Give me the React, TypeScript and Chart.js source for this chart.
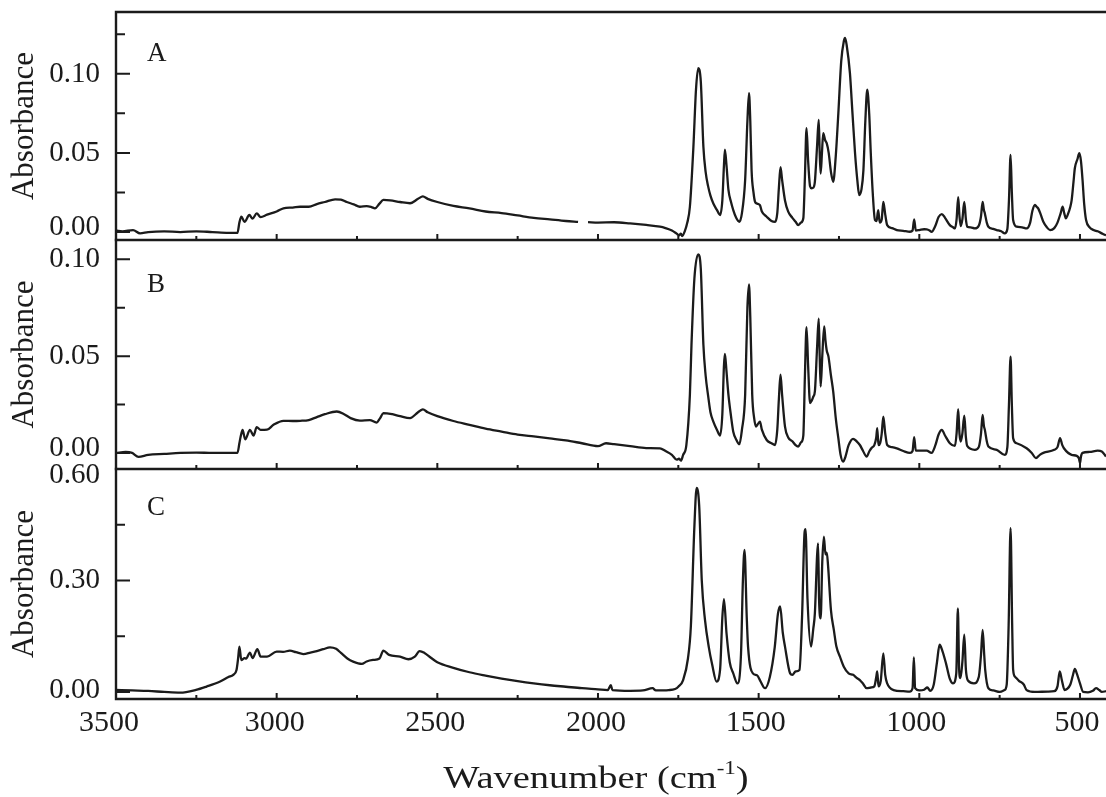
import React, { useEffect, useRef } from 'react';
import { Chart, registerables } from 'chart.js';

Chart.register(...registerables);

const FONT = "'Liberation Serif', 'Times New Roman', Times, serif";
const INK = '#1b1b1b';

// [wavenumber (cm-1), absorbance]; null marks a break in the recorded trace
const spectrumA: [number, number | null][] = [
  [3500, 0.001], [3480, 0.0005], [3447, 0.0013], [3425, -0.0008], [3400, 0.0], [3350, 0.0005],
  [3300, 0.0], [3250, 0.0005], [3200, 0.0], [3150, -0.0005], [3122, -0.0005], [3116, 0.006],
  [3110, 0.0097], [3100, 0.0065], [3085, 0.0108], [3075, 0.0085], [3062, 0.0118], [3050, 0.0095],
  [3030, 0.011], [3000, 0.013], [2979, 0.015], [2950, 0.0155], [2927, 0.016], [2900, 0.016],
  [2875, 0.0177], [2850, 0.019], [2818, 0.0207], [2800, 0.0205], [2782, 0.019], [2760, 0.0175],
  [2741, 0.016], [2720, 0.0164], [2705, 0.0158], [2694, 0.015], [2680, 0.018], [2668, 0.0203],
  [2647, 0.02], [2616, 0.019], [2585, 0.0182], [2560, 0.021], [2545, 0.0225], [2530, 0.021],
  [2500, 0.019], [2450, 0.0165], [2400, 0.015], [2350, 0.013], [2300, 0.012], [2250, 0.0105],
  [2200, 0.009], [2150, 0.008], [2100, 0.007], [2062, 0.0065], [2047, null], [2031, 0.0063],
  [2000, 0.006], [1950, 0.0062], [1900, 0.0055], [1850, 0.0045], [1807, 0.0034], [1790, 0.0025],
  [1770, 0.001], [1755, -0.001], [1748, -0.002], [1742, -0.001], [1738, -0.0025], [1730, 0.0005],
  [1722, 0.006], [1714, 0.016], [1703, 0.054], [1695, 0.09], [1688, 0.1036], [1680, 0.095],
  [1672, 0.054], [1665, 0.038], [1657, 0.0287], [1650, 0.023], [1641, 0.018], [1630, 0.014],
  [1620, 0.0108], [1613, 0.02], [1608, 0.042], [1605, 0.052], [1600, 0.042], [1594, 0.0266],
  [1586, 0.019], [1579, 0.0139], [1570, 0.009], [1560, 0.0065], [1552, 0.012], [1542, 0.033],
  [1535, 0.07], [1530, 0.0878], [1526, 0.07], [1522, 0.039], [1516, 0.025], [1511, 0.019],
  [1505, 0.018], [1496, 0.017], [1490, 0.013], [1475, 0.0097], [1460, 0.007], [1449, 0.0065],
  [1442, 0.012], [1437, 0.028], [1432, 0.041], [1427, 0.033], [1418, 0.02], [1408, 0.0129],
  [1395, 0.009], [1385, 0.0065], [1377, 0.0044], [1368, 0.006], [1361, 0.0087], [1356, 0.035],
  [1351, 0.0656], [1346, 0.045], [1340, 0.029], [1335, 0.0277], [1330, 0.028], [1325, 0.0318],
  [1318, 0.055], [1313, 0.0709], [1310, 0.05], [1307, 0.037], [1303, 0.05], [1299, 0.0625],
  [1293, 0.058], [1288, 0.056], [1282, 0.05], [1275, 0.038], [1268, 0.0318], [1260, 0.048],
  [1252, 0.075], [1243, 0.108], [1235, 0.1205], [1231, 0.1226], [1226, 0.118], [1216, 0.1005],
  [1208, 0.075], [1200, 0.0498], [1193, 0.033], [1187, 0.0234], [1180, 0.027], [1174, 0.039],
  [1168, 0.07], [1162, 0.0899], [1156, 0.075], [1151, 0.0498], [1145, 0.025], [1138, 0.0076],
  [1133, 0.007], [1128, 0.0139], [1123, 0.006], [1117, 0.008], [1112, 0.019], [1106, 0.011],
  [1100, 0.0044], [1085, 0.0025], [1070, 0.0013], [1050, 0.0008], [1029, 0.0002], [1021, 0.001],
  [1016, 0.008], [1011, 0.001], [1000, 0.0013], [985, 0.0018], [977, 0.0017], [968, 0.001],
  [962, 0.0002], [950, 0.004], [940, 0.0095], [930, 0.0114], [920, 0.009], [905, 0.0044],
  [895, 0.003], [889, 0.0023], [884, 0.008], [879, 0.022], [875, 0.01], [871, 0.0038],
  [866, 0.008], [860, 0.019], [855, 0.008], [851, 0.0034], [840, 0.003], [827, 0.0023],
  [815, 0.004], [808, 0.01], [803, 0.019], [799, 0.014], [796, 0.0118], [790, 0.006],
  [785, 0.0034], [770, 0.002], [759, 0.0013], [745, 0.0005], [734, -0.0008], [726, 0.002],
  [721, 0.02], [716, 0.0487], [712, 0.025], [708, 0.0076], [697, 0.0034], [680, 0.003],
  [666, 0.0023], [655, 0.006], [648, 0.0135], [640, 0.0171], [635, 0.016], [630, 0.015],
  [622, 0.011], [614, 0.0065], [603, 0.003], [593, 0.0013], [580, 0.0025], [570, 0.006],
  [560, 0.012], [554, 0.016], [549, 0.012], [544, 0.0087], [538, 0.011], [530, 0.016],
  [526, 0.02], [520, 0.032], [516, 0.0403], [508, 0.046], [502, 0.0498], [497, 0.045],
  [492, 0.033], [487, 0.018], [481, 0.0076], [470, 0.003], [458, 0.0013], [445, 0.0005],
  [432, -0.0008], [425, -0.0015], [419, -0.002],
];

const spectrumB: [number, number | null][] = [
  [3500, 0.0], [3470, 0.0005], [3450, 0.0], [3430, -0.002], [3400, -0.001], [3350, -0.0005],
  [3300, 0.0], [3250, 0.0002], [3200, 0.0], [3150, 0.0], [3122, 0.0], [3116, 0.005],
  [3112, 0.0085], [3106, 0.0119], [3098, 0.007], [3083, 0.0119], [3072, 0.009], [3062, 0.0133],
  [3050, 0.0119], [3030, 0.012], [3010, 0.0145], [2979, 0.0166], [2950, 0.0165], [2927, 0.0166],
  [2900, 0.017], [2875, 0.0185], [2850, 0.02], [2813, 0.0214], [2790, 0.02], [2770, 0.018],
  [2741, 0.0167], [2710, 0.017], [2689, 0.0157], [2678, 0.018], [2668, 0.0206], [2640, 0.02],
  [2616, 0.019], [2585, 0.018], [2560, 0.021], [2545, 0.0225], [2530, 0.021], [2500, 0.019],
  [2450, 0.0165], [2400, 0.0145], [2350, 0.0125], [2300, 0.011], [2250, 0.0095], [2200, 0.0085],
  [2150, 0.0075], [2100, 0.0065], [2050, 0.005], [2000, 0.0035], [1975, 0.005], [1950, 0.0045],
  [1900, 0.0035], [1850, 0.0025], [1807, 0.0024], [1790, 0.001], [1770, -0.001], [1755, -0.0035],
  [1748, -0.003], [1742, -0.004], [1735, -0.001], [1725, 0.004], [1714, 0.03], [1709, 0.056],
  [1700, 0.09], [1688, 0.1026], [1680, 0.095], [1672, 0.056], [1665, 0.04], [1657, 0.0292],
  [1650, 0.021], [1641, 0.0162], [1630, 0.012], [1620, 0.009], [1613, 0.02], [1608, 0.045],
  [1605, 0.0511], [1600, 0.042], [1594, 0.03], [1586, 0.019], [1579, 0.011], [1570, 0.007],
  [1560, 0.0045], [1552, 0.012], [1542, 0.03], [1535, 0.075], [1530, 0.087], [1526, 0.07],
  [1520, 0.03], [1514, 0.018], [1508, 0.0136], [1502, 0.015], [1496, 0.0162], [1490, 0.012],
  [1475, 0.0067], [1460, 0.005], [1449, 0.0041], [1442, 0.012], [1437, 0.028], [1432, 0.0404],
  [1427, 0.03], [1418, 0.0136], [1408, 0.008], [1395, 0.006], [1385, 0.004], [1377, 0.0033],
  [1368, 0.0055], [1361, 0.009], [1356, 0.04], [1351, 0.065], [1346, 0.045], [1340, 0.0257],
  [1335, 0.027], [1330, 0.029], [1325, 0.0318], [1318, 0.055], [1313, 0.0694], [1310, 0.05],
  [1307, 0.0343], [1302, 0.05], [1296, 0.0654], [1292, 0.058], [1288, 0.0528], [1283, 0.05],
  [1275, 0.04], [1268, 0.0318], [1260, 0.018], [1252, 0.0076], [1245, -0.001], [1237, -0.0045],
  [1230, -0.002], [1220, 0.004], [1206, 0.0073], [1195, 0.006], [1185, 0.0041], [1175, 0.001],
  [1164, -0.0019], [1155, 0.001], [1148, 0.0027], [1140, 0.004], [1134, 0.008], [1131, 0.0128],
  [1127, 0.004], [1122, 0.005], [1117, 0.01], [1112, 0.0188], [1106, 0.01], [1100, 0.0041],
  [1085, 0.003], [1070, 0.0024], [1050, 0.001], [1029, 0.0], [1021, 0.001], [1016, 0.0081],
  [1011, 0.0012], [995, 0.0012], [977, 0.0012], [962, 0.0], [950, 0.004], [940, 0.0095],
  [930, 0.0119], [920, 0.009], [905, 0.005], [889, 0.0036], [884, 0.01], [879, 0.0226],
  [875, 0.01], [871, 0.0059], [866, 0.01], [860, 0.0192], [855, 0.008], [851, 0.0036],
  [827, 0.0016], [815, 0.003], [808, 0.01], [803, 0.0197], [799, 0.014], [796, 0.0119],
  [790, 0.006], [785, 0.0033], [759, 0.0016], [734, -0.001], [726, 0.003], [721, 0.025],
  [716, 0.0497], [712, 0.025], [708, 0.0076], [697, 0.005], [666, 0.0024], [650, 0.0],
  [637, -0.0027], [625, -0.001], [614, 0.0], [580, 0.0016], [570, 0.003], [562, 0.0076],
  [555, 0.004], [550, 0.0024], [526, -0.001], [510, -0.0015], [503, -0.003], [500, -0.0053],
  [497, -0.002], [492, 0.0], [470, 0.0005], [445, 0.0012], [432, 0.0008], [419, -0.0019],
];

const spectrumC: [number, number | null][] = [
  [3500, 0.0054], [3450, 0.004], [3400, 0.0027], [3350, 0.0], [3300, -0.002], [3251, 0.0054],
  [3218, 0.0144], [3176, 0.028], [3150, 0.04], [3135, 0.046], [3125, 0.059], [3120, 0.09],
  [3116, 0.122], [3110, 0.086], [3100, 0.091], [3095, 0.09], [3083, 0.106], [3075, 0.091],
  [3060, 0.115], [3050, 0.095], [3030, 0.095], [3000, 0.1085], [2980, 0.108], [2959, 0.111],
  [2940, 0.107], [2917, 0.102], [2895, 0.106], [2875, 0.11], [2855, 0.115], [2834, 0.12],
  [2815, 0.116], [2800, 0.105], [2780, 0.09], [2762, 0.0816], [2735, 0.0754], [2720, 0.082],
  [2700, 0.086], [2680, 0.09], [2668, 0.111], [2650, 0.0996], [2616, 0.095], [2590, 0.088],
  [2570, 0.095], [2555, 0.11], [2540, 0.105], [2520, 0.092], [2500, 0.08], [2450, 0.065],
  [2400, 0.053], [2350, 0.044], [2300, 0.036], [2250, 0.029], [2200, 0.023], [2150, 0.018],
  [2100, 0.014], [2050, 0.01], [2000, 0.007], [1970, 0.005], [1960, 0.018], [1955, 0.005],
  [1900, 0.003], [1860, 0.004], [1830, 0.01], [1820, 0.004], [1780, 0.005], [1760, 0.008],
  [1750, 0.014], [1735, 0.032], [1720, 0.09], [1711, 0.176], [1700, 0.445], [1693, 0.549],
  [1685, 0.5], [1677, 0.3], [1667, 0.194], [1655, 0.12], [1645, 0.075], [1631, 0.028],
  [1620, 0.06], [1613, 0.2], [1608, 0.25], [1600, 0.158], [1590, 0.08], [1579, 0.05],
  [1566, 0.023], [1555, 0.1], [1549, 0.3], [1544, 0.382], [1537, 0.2], [1533, 0.122],
  [1518, 0.05], [1505, 0.045], [1495, 0.03], [1480, 0.01], [1465, 0.041], [1450, 0.12],
  [1440, 0.21], [1433, 0.23], [1425, 0.16], [1418, 0.122], [1402, 0.05], [1395, 0.046],
  [1385, 0.055], [1373, 0.059], [1365, 0.2], [1357, 0.43], [1354, 0.438], [1348, 0.25],
  [1337, 0.122], [1330, 0.17], [1325, 0.212], [1318, 0.37], [1315, 0.4], [1312, 0.25],
  [1307, 0.198], [1302, 0.35], [1297, 0.418], [1292, 0.37], [1288, 0.375], [1284, 0.34],
  [1275, 0.22], [1266, 0.167], [1258, 0.122], [1247, 0.095], [1235, 0.068], [1220, 0.05],
  [1206, 0.046], [1195, 0.038], [1185, 0.032], [1175, 0.022], [1164, 0.01], [1150, 0.012],
  [1140, 0.015], [1134, 0.04], [1131, 0.055], [1127, 0.015], [1120, 0.03], [1112, 0.104],
  [1106, 0.045], [1100, 0.023], [1080, 0.005], [1050, 0.002], [1030, 0.001], [1021, 0.01],
  [1017, 0.093], [1013, 0.01], [1000, 0.004], [985, 0.006], [975, 0.012], [966, 0.003],
  [955, 0.02], [945, 0.08], [937, 0.127], [928, 0.11], [917, 0.077], [905, 0.035],
  [895, 0.023], [885, 0.05], [880, 0.225], [876, 0.06], [872, 0.037], [866, 0.08],
  [860, 0.154], [855, 0.06], [848, 0.03], [830, 0.023], [815, 0.04], [808, 0.1],
  [803, 0.167], [798, 0.1], [795, 0.06], [785, 0.01], [770, 0.004], [750, 0.0],
  [735, 0.005], [728, 0.02], [722, 0.18], [716, 0.441], [711, 0.18], [708, 0.06],
  [702, 0.041], [690, 0.03], [675, 0.02], [666, 0.005], [640, 0.0], [600, 0.001],
  [580, 0.002], [570, 0.015], [563, 0.055], [556, 0.03], [548, 0.005], [540, 0.008],
  [530, 0.02], [522, 0.045], [516, 0.062], [510, 0.05], [500, 0.023], [490, 0.0],
  [475, -0.001], [460, 0.003], [450, 0.01], [440, 0.005], [432, 0.0], [419, 0.002],
];

const wavenumberTicks = [3500, 3000, 2500, 2000, 1500, 1000, 500];
const wavenumberMinorTicks = [3250, 2750, 2250, 1750, 1250, 750];
const absorbanceTicksA = [0, 0.05, 0.1];
const absorbanceMinorTicksA = [0.025, 0.075, 0.125];
const absorbanceTicksB = [0, 0.05, 0.1];
const absorbanceMinorTicksB = [0.025, 0.075];
const absorbanceTicksC = [0, 0.3, 0.6];
const absorbanceMinorTicksC = [0.15, 0.45];

const PAGE_W = 1106;
const PAGE_H = 797;
const X_MIN = 419;
const X_MAX = 3500;

// small shifts that keep edge labels clear of the neighbouring panels
const xLabelShift = [-7, -2, -2, -2, -3, -3, -3];

type Panel = {
  name: string;
  points: [number, number | null][];
  yMin: number;
  yMax: number;
  majors: number[];
  minors: number[];
  yLabelShift: number[];
  top: number;
  bottom: number;
  showX: boolean;
  drawTop: boolean;
  nameBaseline: number;
};

const panels: Panel[] = [
  { name: 'A', points: spectrumA, yMin: -0.005, yMax: 0.139, majors: absorbanceTicksA, minors: absorbanceMinorTicksA, yLabelShift: [-5, 0, 1], top: 12, bottom: 240, showX: false, drawTop: true, nameBaseline: 61 },
  { name: 'B', points: spectrumB, yMin: -0.0083, yMax: 0.11, majors: absorbanceTicksB, minors: absorbanceMinorTicksB, yLabelShift: [-5, 0, 0], top: 240, bottom: 469, showX: false, drawTop: false, nameBaseline: 292 },
  { name: 'C', points: spectrumC, yMin: -0.019, yMax: 0.6, majors: absorbanceTicksC, minors: absorbanceMinorTicksC, yLabelShift: [-2, 0, 6], top: 469, bottom: 699, showX: true, drawTop: false, nameBaseline: 515 },
];

const X_AXIS_H = 60;

// Frame, inward tick marks and the panel letter
const framePlugin = {
  id: 'frame',
  beforeDraw(chart: any, _args: any, opts: any) {
    const shiftItems = (scale: any, shifts: number[], dim: 0 | 1) => {
      if (!scale || !scale.getLabelItems) return;
      const items = scale.getLabelItems(chart.chartArea);
      if (!items || items.__shifted) return;
      items.forEach((it: any, i: number) => {
        const t = it.options && it.options.translation;
        if (t) t[dim] = t[dim] + (shifts[i] || 0);
      });
      items.__shifted = true;
    };
    shiftItems(chart.scales.y, opts.yLabelShift, 1);
    if (opts.showX) shiftItems(chart.scales.x, xLabelShift, 0);
  },
  afterDraw(chart: any, _args: any, opts: any) {
    const { ctx, chartArea } = chart;
    const { left, right, top, bottom } = chartArea;
    const xs = chart.scales.x;
    const ys = chart.scales.y;
    ctx.save();
    ctx.strokeStyle = INK;
    ctx.lineWidth = 2.4;
    ctx.beginPath();
    ctx.moveTo(left, top - 1.2);
    ctx.lineTo(left, bottom);
    ctx.lineTo(right, bottom);
    if (opts.drawTop) {
      ctx.moveTo(left - 1.2, top);
      ctx.lineTo(right, top);
    }
    ctx.stroke();

    ctx.lineWidth = 2;
    ctx.beginPath();
    for (const v of opts.majors) {
      const py = ys.getPixelForValue(v);
      ctx.moveTo(left, py);
      ctx.lineTo(left + 14, py);
    }
    for (const v of opts.minors) {
      const py = ys.getPixelForValue(v);
      ctx.moveTo(left, py);
      ctx.lineTo(left + 9, py);
    }
    for (const v of wavenumberTicks) {
      const px = xs.getPixelForValue(v);
      ctx.moveTo(px, bottom);
      ctx.lineTo(px, bottom - 6);
    }
    for (const v of wavenumberMinorTicks) {
      const px = xs.getPixelForValue(v);
      ctx.moveTo(px, bottom);
      ctx.lineTo(px, bottom - 4);
    }
    ctx.stroke();

    ctx.fillStyle = INK;
    ctx.font = `27px ${FONT}`;
    ctx.textBaseline = 'alphabetic';
    ctx.textAlign = 'left';
    ctx.fillText(opts.name, 147, opts.nameBaseline);
    ctx.restore();
  },
};

function makeConfig(p: Panel): any {
  const axisH = p.showX ? X_AXIS_H : 0;
  const padBottom = PAGE_H - p.bottom - axisH;
  return {
    type: 'line',
    data: {
      datasets: [
        {
          data: p.points.map(([x, y]) => ({ x, y })),
          borderColor: INK,
          borderWidth: 2.3,
          pointRadius: 0,
          cubicInterpolationMode: 'monotone',
          spanGaps: false,
          fill: false,
        },
      ],
    },
    options: {
      animation: false,
      responsive: false,
      maintainAspectRatio: false,
      events: [],
      layout: { padding: { left: 0, right: 0, top: p.top, bottom: padBottom } },
      plugins: {
        legend: { display: false },
        tooltip: { enabled: false },
        frame: {
          majors: p.majors,
          minors: p.minors,
          yLabelShift: p.yLabelShift,
          showX: p.showX,
          drawTop: p.drawTop,
          name: p.name,
          nameBaseline: p.nameBaseline,
        },
      },
      scales: {
        x: {
          type: 'linear',
          reverse: true,
          min: X_MIN,
          max: X_MAX,
          display: p.showX,
          grid: { display: false, drawTicks: false },
          border: { display: false },
          afterBuildTicks: (s: any) => {
            s.ticks = wavenumberTicks.map((value) => ({ value }));
          },
          afterFit: (s: any) => {
            s.height = axisH;
            s.paddingLeft = 0;
            s.paddingRight = 0;
          },
          ticks: {
            autoSkip: false,
            maxRotation: 0,
            padding: 6,
            color: INK,
            font: { family: FONT, size: 30 },
            callback: (v: number) => String(v),
          },
        },
        y: {
          type: 'linear',
          min: p.yMin,
          max: p.yMax,
          grid: { display: false, drawTicks: false },
          border: { display: false },
          afterBuildTicks: (s: any) => {
            s.ticks = p.majors.map((value) => ({ value }));
          },
          afterFit: (s: any) => {
            s.width = 116;
            s.paddingTop = 0;
            s.paddingBottom = 0;
          },
          ticks: {
            padding: 16,
            color: INK,
            font: { family: FONT, size: 29 },
            callback: (v: number) => Number(v).toFixed(2),
          },
          title: {
            display: true,
            text: 'Absorbance',
            color: INK,
            font: { family: FONT, size: 31 },
            padding: { top: 6, bottom: 0 },
          },
        },
      },
    },
    plugins: [framePlugin],
  };
}

function SpectrumPanel({ panel }: { panel: Panel }) {
  const ref = useRef<HTMLCanvasElement>(null);
  useEffect(() => {
    if (!ref.current) return;
    const chart = new Chart(ref.current, makeConfig(panel));
    return () => chart.destroy();
  }, [panel]);
  return (
    <canvas
      ref={ref}
      width={PAGE_W}
      height={PAGE_H}
      style={{ position: 'absolute', left: 0, top: 0, width: PAGE_W, height: PAGE_H }}
    />
  );
}

export default function App() {
  return (
    <div style={{ position: 'absolute', left: 0, top: 0, width: PAGE_W, height: PAGE_H, background: '#fff', overflow: 'hidden' }}>
      {panels.map((p) => (
        <SpectrumPanel key={p.name} panel={p} />
      ))}
      <div
        style={{
          position: 'absolute',
          left: 396,
          width: 400,
          top: 762,
          textAlign: 'center',
          fontFamily: FONT,
          fontSize: 31,
          lineHeight: '31px',
          color: INK,
          whiteSpace: 'nowrap',
          transform: 'scaleX(1.24)',
          transformOrigin: '50% 50%',
        }}
      >
        Wavenumber (cm<sup style={{ fontSize: '0.6em', lineHeight: 0, verticalAlign: '0.75em' }}>-1</sup>)
      </div>
    </div>
  );
}
